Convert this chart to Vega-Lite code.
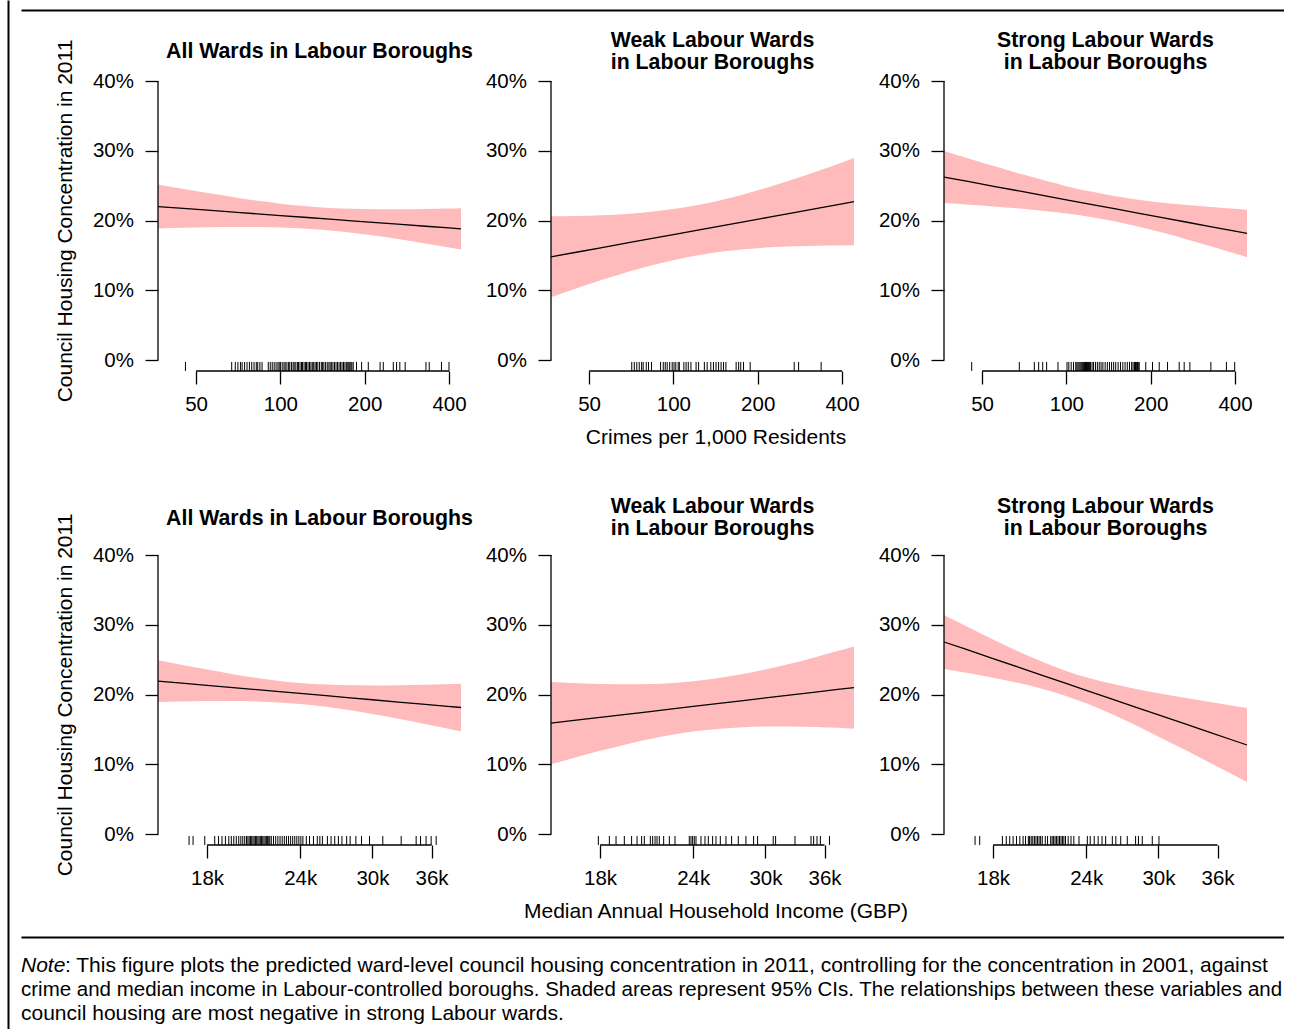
{
"$schema": "https://vega.github.io/schema/vega-lite/v6.json",
"padding": {"left": 5, "top": 0, "right": 0, "bottom": 0},
"background": "white",
"config": {
  "view": {"stroke": null},
  "font": "Liberation Sans",
  "axis": {"domain": false, "grid": false, "tickColor": "black", "tickWidth": 1.3, "tickSize": 13, "labelColor": "black", "labelFontSize": 20.5, "labelFont": "Liberation Sans", "titleFont": "Liberation Sans", "titleFontSize": 21, "titleFontWeight": "normal", "titleColor": "black", "labelFlush": false, "labelOverlap": false},
  "axisX": {"labelPadding": 10, "titlePadding": 12},
  "axisY": {"labelPadding": 11.5, "titlePadding": 17},
  "text": {"font": "Liberation Sans", "color": "black"},
  "title": {"font": "Liberation Sans", "color": "black"}
},
"datasets": {
  "curve_crime_all": [
    {"x":36.55,"fit":22.0,"lo":18.85,"hi":25.15},{"x":45,"fit":21.74,"lo":18.95,"hi":24.53},{"x":55,"fit":21.48,"lo":19.02,"hi":23.93},{"x":70,"fit":21.17,"lo":19.07,"hi":23.27},{"x":85,"fit":20.92,"lo":19.06,"hi":22.78},{"x":100,"fit":20.71,"lo":19.0,"hi":22.42},{"x":125,"fit":20.43,"lo":18.82,"hi":22.04},{"x":150,"fit":20.19,"lo":18.57,"hi":21.81},{"x":180,"fit":19.96,"lo":18.24,"hi":21.68},{"x":220,"fit":19.70,"lo":17.80,"hi":21.61},{"x":270,"fit":19.44,"lo":17.27,"hi":21.61},{"x":330,"fit":19.18,"lo":16.71,"hi":21.65},{"x":400,"fit":18.93,"lo":16.14,"hi":21.72},{"x":441.5,"fit":18.8,"lo":15.83,"hi":21.77}],
  "curve_crime_weak": [
    {"x":36.55,"fit":14.8,"lo":9.0,"hi":20.6},{"x":45,"fit":15.45,"lo":10.25,"hi":20.65},{"x":55,"fit":16.09,"lo":11.42,"hi":20.76},{"x":70,"fit":16.85,"lo":12.72,"hi":20.98},{"x":85,"fit":17.47,"lo":13.65,"hi":21.29},{"x":100,"fit":17.98,"lo":14.32,"hi":21.64},{"x":125,"fit":18.69,"lo":15.08,"hi":22.30},{"x":150,"fit":19.26,"lo":15.54,"hi":22.98},{"x":180,"fit":19.84,"lo":15.89,"hi":23.79},{"x":220,"fit":20.48,"lo":16.15,"hi":24.81},{"x":270,"fit":21.13,"lo":16.31,"hi":25.95},{"x":330,"fit":21.76,"lo":16.39,"hi":27.13},{"x":400,"fit":22.37,"lo":16.43,"hi":28.31},{"x":441.5,"fit":22.7,"lo":16.44,"hi":28.97}],
  "curve_crime_strong": [
    {"x":36.55,"fit":26.23,"lo":22.5,"hi":29.96},{"x":45,"fit":25.56,"lo":22.27,"hi":28.85},{"x":55,"fit":24.91,"lo":22.02,"hi":27.80},{"x":70,"fit":24.13,"lo":21.68,"hi":26.58},{"x":85,"fit":23.5,"lo":21.34,"hi":25.66},{"x":100,"fit":22.97,"lo":21.01,"hi":24.93},{"x":125,"fit":22.25,"lo":20.44,"hi":24.07},{"x":150,"fit":21.66,"lo":19.85,"hi":23.47},{"x":180,"fit":21.06,"lo":19.14,"hi":22.98},{"x":220,"fit":20.41,"lo":18.27,"hi":22.55},{"x":270,"fit":19.75,"lo":17.29,"hi":22.21},{"x":330,"fit":19.1,"lo":16.28,"hi":21.92},{"x":400,"fit":18.47,"lo":15.27,"hi":21.67},{"x":441.5,"fit":18.14,"lo":14.73,"hi":21.55}],
  "curve_income_all": [
    {"x":15470,"fit":21.93,"lo":18.93,"hi":24.93},{"x":16500,"fit":21.67,"lo":19.0,"hi":24.34},{"x":18000,"fit":21.32,"lo":19.06,"hi":23.58},{"x":19500,"fit":21.0,"lo":19.07,"hi":22.92},{"x":21000,"fit":20.69,"lo":19.01,"hi":22.37},{"x":22500,"fit":20.41,"lo":18.87,"hi":21.95},{"x":24000,"fit":20.15,"lo":18.65,"hi":21.65},{"x":26000,"fit":19.83,"lo":18.24,"hi":21.42},{"x":28000,"fit":19.53,"lo":17.74,"hi":21.32},{"x":30000,"fit":19.25,"lo":17.2,"hi":21.3},{"x":32500,"fit":18.92,"lo":16.51,"hi":21.33},{"x":35000,"fit":18.62,"lo":15.85,"hi":21.39},{"x":37500,"fit":18.34,"lo":15.21,"hi":21.47},{"x":39430,"fit":18.14,"lo":14.74,"hi":21.54}],
  "curve_income_weak": [
    {"x":15470,"fit":15.9,"lo":10.0,"hi":21.8},{"x":16500,"fit":16.25,"lo":10.84,"hi":21.66},{"x":18000,"fit":16.72,"lo":11.92,"hi":21.52},{"x":19500,"fit":17.16,"lo":12.85,"hi":21.47},{"x":21000,"fit":17.56,"lo":13.61,"hi":21.51},{"x":22500,"fit":17.94,"lo":14.22,"hi":21.66},{"x":24000,"fit":18.29,"lo":14.68,"hi":21.9},{"x":26000,"fit":18.73,"lo":15.1,"hi":22.37},{"x":28000,"fit":19.13,"lo":15.32,"hi":22.94},{"x":30000,"fit":19.51,"lo":15.42,"hi":23.6},{"x":32500,"fit":19.94,"lo":15.42,"hi":24.46},{"x":35000,"fit":20.35,"lo":15.34,"hi":25.36},{"x":37500,"fit":20.73,"lo":15.22,"hi":26.24},{"x":39430,"fit":21.0,"lo":15.1,"hi":26.9}],
  "curve_income_strong": [
    {"x":15470,"fit":27.53,"lo":23.66,"hi":31.4},{"x":16500,"fit":26.53,"lo":23.15,"hi":29.9},{"x":18000,"fit":25.15,"lo":22.41,"hi":27.89},{"x":19500,"fit":23.89,"lo":21.64,"hi":26.14},{"x":21000,"fit":22.72,"lo":20.8,"hi":24.65},{"x":22500,"fit":21.62,"lo":19.82,"hi":23.42},{"x":24000,"fit":20.6,"lo":18.73,"hi":22.47},{"x":26000,"fit":19.35,"lo":17.17,"hi":21.53},{"x":28000,"fit":18.17,"lo":15.55,"hi":20.8},{"x":30000,"fit":17.07,"lo":13.96,"hi":20.18},{"x":32500,"fit":15.82,"lo":12.1,"hi":19.54},{"x":35000,"fit":14.64,"lo":10.32,"hi":18.96},{"x":37500,"fit":13.55,"lo":8.66,"hi":18.44},{"x":39430,"fit":12.76,"lo":7.45,"hi":18.07}],
  "rug_crime_all": [{"x":45.8},{"x":67},{"x":69},{"x":70.5},{"x":72},{"x":73},{"x":74.5},{"x":76},{"x":77.5},{"x":79},{"x":80.5},{"x":82},{"x":83},{"x":84.5},{"x":86},{"x":90.5},{"x":92},{"x":93.5},{"x":95},{"x":96.5},{"x":98},{"x":99},{"x":100},{"x":101.5},{"x":103},{"x":104},{"x":105.5},{"x":107},{"x":108},{"x":109.5},{"x":111},{"x":112},{"x":113.5},{"x":115},{"x":116},{"x":117.5},{"x":119},{"x":120},{"x":121.5},{"x":123},{"x":124},{"x":125.5},{"x":127},{"x":128.5},{"x":130},{"x":131.5},{"x":133},{"x":134.5},{"x":136},{"x":138},{"x":140},{"x":141.5},{"x":143},{"x":145},{"x":147},{"x":149},{"x":150.5},{"x":152},{"x":154},{"x":156},{"x":158},{"x":160},{"x":162},{"x":164},{"x":166},{"x":168},{"x":170},{"x":172},{"x":174},{"x":175.5},{"x":177},{"x":178.5},{"x":180},{"x":182},{"x":187},{"x":195},{"x":206},{"x":227},{"x":233},{"x":253},{"x":260},{"x":267},{"x":279},{"x":331},{"x":340},{"x":376},{"x":400}],
  "rug_crime_weak": [{"x":71},{"x":72.5},{"x":74},{"x":75.5},{"x":77},{"x":78},{"x":80},{"x":81.5},{"x":83.5},{"x":90},{"x":92},{"x":93.5},{"x":95},{"x":97},{"x":99},{"x":100.5},{"x":102},{"x":104},{"x":105},{"x":109},{"x":111},{"x":113},{"x":115.5},{"x":120.5},{"x":123},{"x":129},{"x":132},{"x":136},{"x":139},{"x":142},{"x":145},{"x":148},{"x":151},{"x":154},{"x":167.5},{"x":171},{"x":174},{"x":178},{"x":188},{"x":270},{"x":280},{"x":337}],
  "rug_crime_strong": [{"x":45.9},{"x":67.9},{"x":76.8},{"x":79.6},{"x":82.3},{"x":85},{"x":93.3},{"x":100.5},{"x":102},{"x":104},{"x":106},{"x":108},{"x":109},{"x":110},{"x":111},{"x":112},{"x":113},{"x":114},{"x":115},{"x":116},{"x":117},{"x":118},{"x":119},{"x":120},{"x":121},{"x":122},{"x":123.5},{"x":125},{"x":127},{"x":129},{"x":131},{"x":133},{"x":135},{"x":137.5},{"x":140},{"x":142.5},{"x":145},{"x":147.5},{"x":150},{"x":153},{"x":156},{"x":159},{"x":162},{"x":165},{"x":168},{"x":171},{"x":173},{"x":175},{"x":176.5},{"x":177.5},{"x":178.5},{"x":179.5},{"x":180.5},{"x":182},{"x":192},{"x":203},{"x":214.5},{"x":229.7},{"x":252.8},{"x":263.4},{"x":276},{"x":328},{"x":372.8},{"x":399}],
  "rug_income_all": [{"x":17028},{"x":17239},{"x":17873},{"x":18432},{"x":18650},{"x":18850},{"x":19050},{"x":19250},{"x":19400},{"x":19550},{"x":19700},{"x":19850},{"x":19980},{"x":20100},{"x":20220},{"x":20330},{"x":20420},{"x":20500},{"x":20580},{"x":20660},{"x":20740},{"x":20820},{"x":20900},{"x":20980},{"x":21060},{"x":21140},{"x":21220},{"x":21300},{"x":21380},{"x":21460},{"x":21540},{"x":21620},{"x":21700},{"x":21780},{"x":21850},{"x":21950},{"x":22100},{"x":22250},{"x":22400},{"x":22550},{"x":22700},{"x":22850},{"x":23000},{"x":23150},{"x":23300},{"x":23450},{"x":23600},{"x":23750},{"x":23900},{"x":24050},{"x":24200},{"x":24455},{"x":24700},{"x":25000},{"x":25300},{"x":25500},{"x":25700},{"x":26100},{"x":26400},{"x":26700},{"x":27000},{"x":27300},{"x":27700},{"x":28000},{"x":28500},{"x":29000},{"x":29726},{"x":30970},{"x":32780},{"x":34330},{"x":34800},{"x":35400},{"x":35960},{"x":36520}],
  "rug_income_weak": [{"x":17906},{"x":18524},{"x":18911},{"x":19401},{"x":19843},{"x":20178},{"x":20466},{"x":20637},{"x":21022},{"x":21174},{"x":21331},{"x":21462},{"x":21615},{"x":21906},{"x":22293},{"x":22688},{"x":23711},{"x":23837},{"x":23957},{"x":24080},{"x":24207},{"x":24583},{"x":24889},{"x":25145},{"x":25483},{"x":25748},{"x":26094},{"x":26554},{"x":27021},{"x":27583},{"x":28244},{"x":28919},{"x":29277},{"x":30724},{"x":30952},{"x":32862},{"x":34526},{"x":34810},{"x":35174},{"x":35538},{"x":36555}],
  "rug_income_strong": [{"x":17027},{"x":17273},{"x":18526},{"x":18750},{"x":18950},{"x":19150},{"x":19350},{"x":19550},{"x":19750},{"x":19900},{"x":20073},{"x":20150},{"x":20250},{"x":20350},{"x":20450},{"x":20550},{"x":20650},{"x":20750},{"x":20850},{"x":20955},{"x":21150},{"x":21300},{"x":21507},{"x":21600},{"x":21700},{"x":21800},{"x":21900},{"x":22000},{"x":22100},{"x":22200},{"x":22300},{"x":22400},{"x":22513},{"x":22700},{"x":22900},{"x":23100},{"x":23472},{"x":24083},{"x":24300},{"x":24600},{"x":24900},{"x":25200},{"x":25484},{"x":26014},{"x":26300},{"x":26700},{"x":27244},{"x":27952},{"x":28200},{"x":28535},{"x":29430},{"x":30044}],
  "note": [
    {"line":1,"part":"label","text":"Note"},
    {"line":1,"part":"first","text":": This figure plots the predicted ward-level council housing concentration in 2011, controlling for the concentration in 2001, against"},
    {"line":2,"part":"mid","text":"crime and median income in Labour-controlled boroughs. Shaded areas represent 95% CIs. The relationships between these variables and"},
    {"line":3,"part":"last","text":"council housing are most negative in strong Labour wards."}
  ]
},
"spacing": 6,
"hconcat": [
  {"width": 1, "height": 1029, "data": {"values": [{}]}, "mark": {"type": "point", "opacity": 0},
   "encoding": {"y": {"datum": 0, "type": "quantitative", "scale": {"domain": [0, 1]}, "axis": {"orient": "left", "domain": true, "domainColor": "black", "domainWidth": 2, "ticks": false, "labels": false, "title": null, "grid": false}}}},
  {"spacing": 0, "vconcat": [
    {"width": 1263, "height": 10, "data": {"values": [{}]}, "mark": {"type": "point", "opacity": 0},
     "encoding": {"x": {"datum": 0, "type": "quantitative", "scale": {"domain": [0, 1]}, "axis": {"orient": "bottom", "domain": true, "domainColor": "black", "domainWidth": 2, "ticks": false, "labels": false, "title": null, "grid": false}}}},
    {"width": 1, "height": 20, "data": {"values": [{}]}, "mark": {"type": "point", "opacity": 0}},
    {"bounds": "flush", "spacing": 90, "hconcat": [
      {"width": 46.5, "height": 301, "data": {"values": [{}]}, "mark": {"type": "point", "opacity": 0}},
      {"width": 303, "height": 301,
       "title": {"text": "All Wards in Labour Boroughs", "fontSize": 21.3, "fontWeight": "bold", "frame": "group", "anchor": "middle", "dx": 10, "offset": -44.2, "baseline": "bottom", "lineHeight": 22},
       "layer": [
        {"data": {"name": "curve_crime_all"}, "mark": {"type": "area", "color": "#FFBBBB", "interpolate": "monotone"},
         "encoding": {"x": {"field": "x", "type": "quantitative", "scale": {"type": "log", "domain": [36.55, 441.5], "nice": false}, "axis": {"values": [50, 100, 200, 400], "title": null}},
                      "y": {"field": "lo", "type": "quantitative", "scale": {"domain": [-1.577, 41.58], "nice": false, "zero": false}, "axis": {"values": [0, 10, 20, 30, 40], "labelExpr": "datum.value + '%'", "title": "Council Housing Concentration in 2011"}},
                      "y2": {"field": "hi"}}},
        {"data": {"name": "curve_crime_all"}, "mark": {"type": "line", "color": "black", "strokeWidth": 1.3},
         "encoding": {"x": {"field": "x", "type": "quantitative"}, "y": {"field": "fit", "type": "quantitative"}}},
        {"data": {"name": "rug_crime_all"}, "mark": {"type": "rule", "color": "black", "strokeWidth": 1},
         "encoding": {"x": {"field": "x", "type": "quantitative"}, "y": {"datum": -1.577, "type": "quantitative"}, "y2": {"datum": -0.282}}},
        {"data": {"values": [{}]}, "mark": {"type": "rule", "color": "black", "strokeWidth": 1.3},
         "encoding": {"x": {"datum": 50, "type": "quantitative"}, "x2": {"datum": 400}, "y": {"datum": -1.577, "type": "quantitative"}}},
        {"data": {"values": [{}]}, "mark": {"type": "rule", "color": "black", "strokeWidth": 1.3},
         "encoding": {"x": {"datum": 36.55, "type": "quantitative"}, "y": {"datum": 0, "type": "quantitative"}, "y2": {"datum": 40}}}
       ]},
      {"width": 303, "height": 301,
       "title": {"text": ["Weak Labour Wards", "in Labour Boroughs"], "fontSize": 21.3, "fontWeight": "bold", "frame": "group", "anchor": "middle", "dx": 10, "offset": -24.3, "baseline": "bottom", "lineHeight": 22},
       "layer": [
        {"data": {"name": "curve_crime_weak"}, "mark": {"type": "area", "color": "#FFBBBB", "interpolate": "monotone"},
         "encoding": {"x": {"field": "x", "type": "quantitative", "scale": {"type": "log", "domain": [36.55, 441.5], "nice": false}, "axis": {"values": [50, 100, 200, 400], "title": "Crimes per 1,000 Residents", "titleX": 164.5}},
                      "y": {"field": "lo", "type": "quantitative", "scale": {"domain": [-1.577, 41.58], "nice": false, "zero": false}, "axis": {"values": [0, 10, 20, 30, 40], "labelExpr": "datum.value + '%'", "title": null}},
                      "y2": {"field": "hi"}}},
        {"data": {"name": "curve_crime_weak"}, "mark": {"type": "line", "color": "black", "strokeWidth": 1.3},
         "encoding": {"x": {"field": "x", "type": "quantitative"}, "y": {"field": "fit", "type": "quantitative"}}},
        {"data": {"name": "rug_crime_weak"}, "mark": {"type": "rule", "color": "black", "strokeWidth": 1},
         "encoding": {"x": {"field": "x", "type": "quantitative"}, "y": {"datum": -1.577, "type": "quantitative"}, "y2": {"datum": -0.282}}},
        {"data": {"values": [{}]}, "mark": {"type": "rule", "color": "black", "strokeWidth": 1.3},
         "encoding": {"x": {"datum": 50, "type": "quantitative"}, "x2": {"datum": 400}, "y": {"datum": -1.577, "type": "quantitative"}}},
        {"data": {"values": [{}]}, "mark": {"type": "rule", "color": "black", "strokeWidth": 1.3},
         "encoding": {"x": {"datum": 36.55, "type": "quantitative"}, "y": {"datum": 0, "type": "quantitative"}, "y2": {"datum": 40}}}
       ]},
      {"width": 303, "height": 301,
       "title": {"text": ["Strong Labour Wards", "in Labour Boroughs"], "fontSize": 21.3, "fontWeight": "bold", "frame": "group", "anchor": "middle", "dx": 10, "offset": -24.3, "baseline": "bottom", "lineHeight": 22},
       "layer": [
        {"data": {"name": "curve_crime_strong"}, "mark": {"type": "area", "color": "#FFBBBB", "interpolate": "monotone"},
         "encoding": {"x": {"field": "x", "type": "quantitative", "scale": {"type": "log", "domain": [36.55, 441.5], "nice": false}, "axis": {"values": [50, 100, 200, 400], "title": null}},
                      "y": {"field": "lo", "type": "quantitative", "scale": {"domain": [-1.577, 41.58], "nice": false, "zero": false}, "axis": {"values": [0, 10, 20, 30, 40], "labelExpr": "datum.value + '%'", "title": null}},
                      "y2": {"field": "hi"}}},
        {"data": {"name": "curve_crime_strong"}, "mark": {"type": "line", "color": "black", "strokeWidth": 1.3},
         "encoding": {"x": {"field": "x", "type": "quantitative"}, "y": {"field": "fit", "type": "quantitative"}}},
        {"data": {"name": "rug_crime_strong"}, "mark": {"type": "rule", "color": "black", "strokeWidth": 1},
         "encoding": {"x": {"field": "x", "type": "quantitative"}, "y": {"datum": -1.577, "type": "quantitative"}, "y2": {"datum": -0.282}}},
        {"data": {"values": [{}]}, "mark": {"type": "rule", "color": "black", "strokeWidth": 1.3},
         "encoding": {"x": {"datum": 50, "type": "quantitative"}, "x2": {"datum": 400}, "y": {"datum": -1.577, "type": "quantitative"}}},
        {"data": {"values": [{}]}, "mark": {"type": "rule", "color": "black", "strokeWidth": 1.3},
         "encoding": {"x": {"datum": 36.55, "type": "quantitative"}, "y": {"datum": 0, "type": "quantitative"}, "y2": {"datum": 40}}}
       ]}
    ]},
    {"width": 1, "height": 48, "data": {"values": [{}]}, "mark": {"type": "point", "opacity": 0}},
    {"bounds": "flush", "spacing": 90, "hconcat": [
      {"width": 46.5, "height": 301, "data": {"values": [{}]}, "mark": {"type": "point", "opacity": 0}},
      {"width": 303, "height": 301,
       "title": {"text": "All Wards in Labour Boroughs", "fontSize": 21.3, "fontWeight": "bold", "frame": "group", "anchor": "middle", "dx": 10, "offset": -37, "baseline": "bottom", "lineHeight": 22},
       "layer": [
        {"data": {"name": "curve_income_all"}, "mark": {"type": "area", "color": "#FFBBBB", "interpolate": "monotone"},
         "encoding": {"x": {"field": "x", "type": "quantitative", "scale": {"type": "log", "domain": [15470, 39430], "nice": false}, "axis": {"values": [18000, 24000, 30000, 36000], "labelExpr": "datum.value / 1000 + 'k'", "title": null}},
                      "y": {"field": "lo", "type": "quantitative", "scale": {"domain": [-1.577, 41.58], "nice": false, "zero": false}, "axis": {"values": [0, 10, 20, 30, 40], "labelExpr": "datum.value + '%'", "title": "Council Housing Concentration in 2011"}},
                      "y2": {"field": "hi"}}},
        {"data": {"name": "curve_income_all"}, "mark": {"type": "line", "color": "black", "strokeWidth": 1.3},
         "encoding": {"x": {"field": "x", "type": "quantitative"}, "y": {"field": "fit", "type": "quantitative"}}},
        {"data": {"name": "rug_income_all"}, "mark": {"type": "rule", "color": "black", "strokeWidth": 1},
         "encoding": {"x": {"field": "x", "type": "quantitative"}, "y": {"datum": -1.577, "type": "quantitative"}, "y2": {"datum": -0.282}}},
        {"data": {"values": [{}]}, "mark": {"type": "rule", "color": "black", "strokeWidth": 1.3},
         "encoding": {"x": {"datum": 18000, "type": "quantitative"}, "x2": {"datum": 36000}, "y": {"datum": -1.577, "type": "quantitative"}}},
        {"data": {"values": [{}]}, "mark": {"type": "rule", "color": "black", "strokeWidth": 1.3},
         "encoding": {"x": {"datum": 15470, "type": "quantitative"}, "y": {"datum": 0, "type": "quantitative"}, "y2": {"datum": 40}}}
       ]},
      {"width": 303, "height": 301,
       "title": {"text": ["Weak Labour Wards", "in Labour Boroughs"], "fontSize": 21.3, "fontWeight": "bold", "frame": "group", "anchor": "middle", "dx": 10, "offset": -16.7, "baseline": "bottom", "lineHeight": 22},
       "layer": [
        {"data": {"name": "curve_income_weak"}, "mark": {"type": "area", "color": "#FFBBBB", "interpolate": "monotone"},
         "encoding": {"x": {"field": "x", "type": "quantitative", "scale": {"type": "log", "domain": [15470, 39430], "nice": false}, "axis": {"values": [18000, 24000, 30000, 36000], "labelExpr": "datum.value / 1000 + 'k'", "title": "Median Annual Household Income (GBP)", "titleX": 164.5}},
                      "y": {"field": "lo", "type": "quantitative", "scale": {"domain": [-1.577, 41.58], "nice": false, "zero": false}, "axis": {"values": [0, 10, 20, 30, 40], "labelExpr": "datum.value + '%'", "title": null}},
                      "y2": {"field": "hi"}}},
        {"data": {"name": "curve_income_weak"}, "mark": {"type": "line", "color": "black", "strokeWidth": 1.3},
         "encoding": {"x": {"field": "x", "type": "quantitative"}, "y": {"field": "fit", "type": "quantitative"}}},
        {"data": {"name": "rug_income_weak"}, "mark": {"type": "rule", "color": "black", "strokeWidth": 1},
         "encoding": {"x": {"field": "x", "type": "quantitative"}, "y": {"datum": -1.577, "type": "quantitative"}, "y2": {"datum": -0.282}}},
        {"data": {"values": [{}]}, "mark": {"type": "rule", "color": "black", "strokeWidth": 1.3},
         "encoding": {"x": {"datum": 18000, "type": "quantitative"}, "x2": {"datum": 36000}, "y": {"datum": -1.577, "type": "quantitative"}}},
        {"data": {"values": [{}]}, "mark": {"type": "rule", "color": "black", "strokeWidth": 1.3},
         "encoding": {"x": {"datum": 15470, "type": "quantitative"}, "y": {"datum": 0, "type": "quantitative"}, "y2": {"datum": 40}}}
       ]},
      {"width": 303, "height": 301,
       "title": {"text": ["Strong Labour Wards", "in Labour Boroughs"], "fontSize": 21.3, "fontWeight": "bold", "frame": "group", "anchor": "middle", "dx": 10, "offset": -16.7, "baseline": "bottom", "lineHeight": 22},
       "layer": [
        {"data": {"name": "curve_income_strong"}, "mark": {"type": "area", "color": "#FFBBBB", "interpolate": "monotone"},
         "encoding": {"x": {"field": "x", "type": "quantitative", "scale": {"type": "log", "domain": [15470, 39430], "nice": false}, "axis": {"values": [18000, 24000, 30000, 36000], "labelExpr": "datum.value / 1000 + 'k'", "title": null}},
                      "y": {"field": "lo", "type": "quantitative", "scale": {"domain": [-1.577, 41.58], "nice": false, "zero": false}, "axis": {"values": [0, 10, 20, 30, 40], "labelExpr": "datum.value + '%'", "title": null}},
                      "y2": {"field": "hi"}}},
        {"data": {"name": "curve_income_strong"}, "mark": {"type": "line", "color": "black", "strokeWidth": 1.3},
         "encoding": {"x": {"field": "x", "type": "quantitative"}, "y": {"field": "fit", "type": "quantitative"}}},
        {"data": {"name": "rug_income_strong"}, "mark": {"type": "rule", "color": "black", "strokeWidth": 1},
         "encoding": {"x": {"field": "x", "type": "quantitative"}, "y": {"datum": -1.577, "type": "quantitative"}, "y2": {"datum": -0.282}}},
        {"data": {"values": [{}]}, "mark": {"type": "rule", "color": "black", "strokeWidth": 1.3},
         "encoding": {"x": {"datum": 18000, "type": "quantitative"}, "x2": {"datum": 36000}, "y": {"datum": -1.577, "type": "quantitative"}}},
        {"data": {"values": [{}]}, "mark": {"type": "rule", "color": "black", "strokeWidth": 1.3},
         "encoding": {"x": {"datum": 15470, "type": "quantitative"}, "y": {"datum": 0, "type": "quantitative"}, "y2": {"datum": 40}}}
       ]}
    ]},
    {"width": 1, "height": 15, "data": {"values": [{}]}, "mark": {"type": "point", "opacity": 0}},
    {"width": 1263, "height": 77, "data": {"name": "note"},
     "encoding": {
       "x": {"datum": 0, "type": "quantitative", "scale": {"domain": [0, 1]}, "axis": {"orient": "top", "domain": true, "domainColor": "black", "domainWidth": 2, "ticks": false, "labels": false, "title": null, "grid": false}},
       "y": {"field": "line", "type": "quantitative", "scale": {"domain": [-0.2083, 3], "reverse": true, "nice": false, "zero": false}, "axis": null},
       "text": {"field": "text"}},
     "layer": [
       {"transform": [{"filter": "datum.part === 'label'"}], "mark": {"type": "text", "align": "left", "baseline": "middle", "fontSize": 21, "fontStyle": "italic"}},
       {"transform": [{"filter": "datum.part === 'first'"}], "mark": {"type": "text", "align": "left", "baseline": "middle", "fontSize": 21, "dx": 44}},
       {"transform": [{"filter": "datum.part === 'mid'"}], "mark": {"type": "text", "align": "left", "baseline": "middle", "fontSize": 20.5}},
       {"transform": [{"filter": "datum.part === 'last'"}], "mark": {"type": "text", "align": "left", "baseline": "middle", "fontSize": 21}}
     ]}
  ]}
]
}
